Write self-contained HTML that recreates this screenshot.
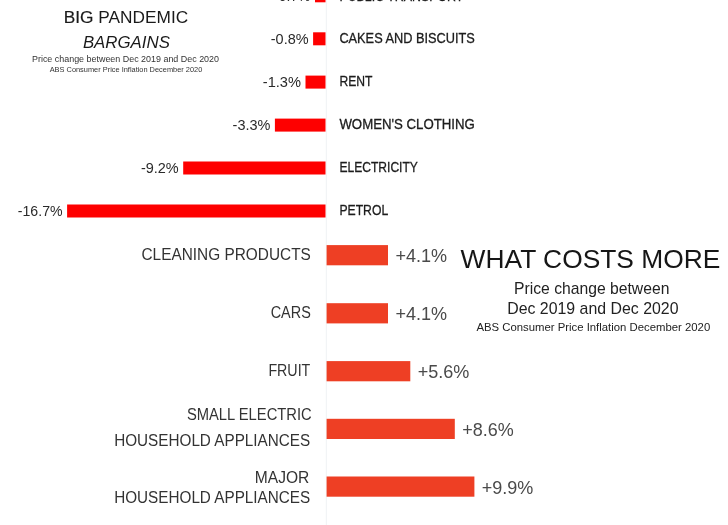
<!DOCTYPE html>
<html lang="en"><head><meta charset="utf-8"><title>Big Pandemic Bargains / What Costs More</title>
<style>
html,body{margin:0;padding:0;background:#fff;}
body{width:728px;height:525px;overflow:hidden;font-family:"Liberation Sans",sans-serif;}
svg{display:block;filter:blur(.45px);font-family:"Liberation Sans",sans-serif;}
.lab{fill:#1c1c1c;font-size:14.1px;stroke:#1c1c1c;stroke-width:.3px;}
.pct{fill:#2a2a2a;font-size:14.3px;}
.lab2{fill:#333;font-size:15.6px;}
.pct2{fill:#4a4a4a;font-size:17.8px;}
</style></head><body>
<svg width="728" height="525" viewBox="0 0 728 525">
<rect width="728" height="525" fill="#ffffff"/>
<rect x="325.8" y="0" width="1" height="525" fill="#eff2f4"/>
<rect x="315.0" y="-10.7" width="10.5" height="13" fill="#fe0000"/>
<text class="pct" x="274.2" y="1.4" textLength="36.3" lengthAdjust="spacingAndGlyphs">-0.7%</text>
<text class="lab" x="339.4" y="0.6" textLength="124.0" lengthAdjust="spacingAndGlyphs">PUBLIC TRANSPORT</text>
<rect x="313.1" y="32.3" width="12.4" height="13" fill="#fe0000"/>
<text class="pct" x="270.8" y="44.1" textLength="37.8" lengthAdjust="spacingAndGlyphs">-0.8%</text>
<text class="lab" x="339.4" y="43.0" textLength="135.4" lengthAdjust="spacingAndGlyphs">CAKES AND BISCUITS</text>
<rect x="305.5" y="75.6" width="20.0" height="13" fill="#fe0000"/>
<text class="pct" x="262.8" y="87.4" textLength="38.2" lengthAdjust="spacingAndGlyphs">-1.3%</text>
<text class="lab" x="339.4" y="86.3" textLength="33.0" lengthAdjust="spacingAndGlyphs">RENT</text>
<rect x="274.9" y="118.6" width="50.6" height="13" fill="#fe0000"/>
<text class="pct" x="232.6" y="130.4" textLength="37.8" lengthAdjust="spacingAndGlyphs">-3.3%</text>
<text class="lab" x="339.4" y="129.3" textLength="135.5" lengthAdjust="spacingAndGlyphs">WOMEN&#39;S CLOTHING</text>
<rect x="183.2" y="161.5" width="142.3" height="13" fill="#fe0000"/>
<text class="pct" x="140.9" y="173.3" textLength="37.8" lengthAdjust="spacingAndGlyphs">-9.2%</text>
<text class="lab" x="339.4" y="172.2" textLength="78.5" lengthAdjust="spacingAndGlyphs">ELECTRICITY</text>
<rect x="67.1" y="204.5" width="258.4" height="13" fill="#fe0000"/>
<text class="pct" x="17.8" y="216.3" textLength="44.8" lengthAdjust="spacingAndGlyphs">-16.7%</text>
<text class="lab" x="339.4" y="215.2" textLength="48.8" lengthAdjust="spacingAndGlyphs">PETROL</text>
<rect x="326.6" y="245.1" width="61.4" height="20.2" fill="#ee3f24"/>
<text class="pct2" x="395.4" y="262.2" textLength="51.7" lengthAdjust="spacingAndGlyphs">+4.1%</text>
<rect x="326.6" y="303.2" width="61.4" height="20.2" fill="#ee3f24"/>
<text class="pct2" x="395.4" y="320.3" textLength="51.7" lengthAdjust="spacingAndGlyphs">+4.1%</text>
<rect x="326.6" y="361.1" width="83.7" height="20.2" fill="#ee3f24"/>
<text class="pct2" x="417.7" y="378.2" textLength="51.7" lengthAdjust="spacingAndGlyphs">+5.6%</text>
<rect x="326.6" y="418.8" width="128.2" height="20.2" fill="#ee3f24"/>
<text class="pct2" x="462.2" y="435.9" textLength="51.5" lengthAdjust="spacingAndGlyphs">+8.6%</text>
<rect x="326.6" y="476.5" width="147.8" height="20.2" fill="#ee3f24"/>
<text class="pct2" x="481.8" y="493.6" textLength="51.6" lengthAdjust="spacingAndGlyphs">+9.9%</text>
<text class="lab2" x="141.5" y="259.7" textLength="169.3" lengthAdjust="spacingAndGlyphs">CLEANING PRODUCTS</text>
<text class="lab2" x="270.7" y="317.9" textLength="40.1" lengthAdjust="spacingAndGlyphs">CARS</text>
<text class="lab2" x="268.4" y="376.0" textLength="41.9" lengthAdjust="spacingAndGlyphs">FRUIT</text>
<text class="lab2" x="186.9" y="420.3" textLength="124.8" lengthAdjust="spacingAndGlyphs">SMALL ELECTRIC</text>
<text class="lab2" x="114.2" y="446.2" textLength="196.0" lengthAdjust="spacingAndGlyphs">HOUSEHOLD APPLIANCES</text>
<text class="lab2" x="254.8" y="483.4" textLength="54.5" lengthAdjust="spacingAndGlyphs">MAJOR</text>
<text class="lab2" x="114.2" y="503.4" textLength="196.0" lengthAdjust="spacingAndGlyphs">HOUSEHOLD APPLIANCES</text>
<text x="63.8" y="23" font-size="17px" fill="#1a1a1a" textLength="124.4" lengthAdjust="spacingAndGlyphs"><tspan stroke="#1a1a1a" stroke-width=".2">BIG</tspan> PANDEMIC</text>
<text x="82.9" y="47.6" font-size="17px" font-style="italic" fill="#1a1a1a" textLength="87" lengthAdjust="spacingAndGlyphs">BARGAINS</text>
<text x="32" y="61.7" font-size="9.5px" fill="#333" textLength="187" lengthAdjust="spacingAndGlyphs">Price change between Dec 2019 and Dec 2020</text>
<text x="49.7" y="72.4" font-size="7.5px" fill="#333" textLength="152.6" lengthAdjust="spacingAndGlyphs">ABS Consumer Price Inflation December 2020</text>
<text x="460.6" y="268.2" font-size="26.6px" fill="#161616" textLength="259.8" lengthAdjust="spacingAndGlyphs">WHAT COSTS MORE</text>
<text x="514" y="293.5" font-size="16.4px" fill="#222" textLength="155.4" lengthAdjust="spacingAndGlyphs">Price change between</text>
<text x="507.2" y="314.1" font-size="16.4px" fill="#222" textLength="171.3" lengthAdjust="spacingAndGlyphs">Dec 2019 and Dec 2020</text>
<text x="476.4" y="331.4" font-size="10.9px" fill="#222" textLength="233.8" lengthAdjust="spacingAndGlyphs">ABS Consumer Price Inflation December 2020</text>
</svg></body></html>
